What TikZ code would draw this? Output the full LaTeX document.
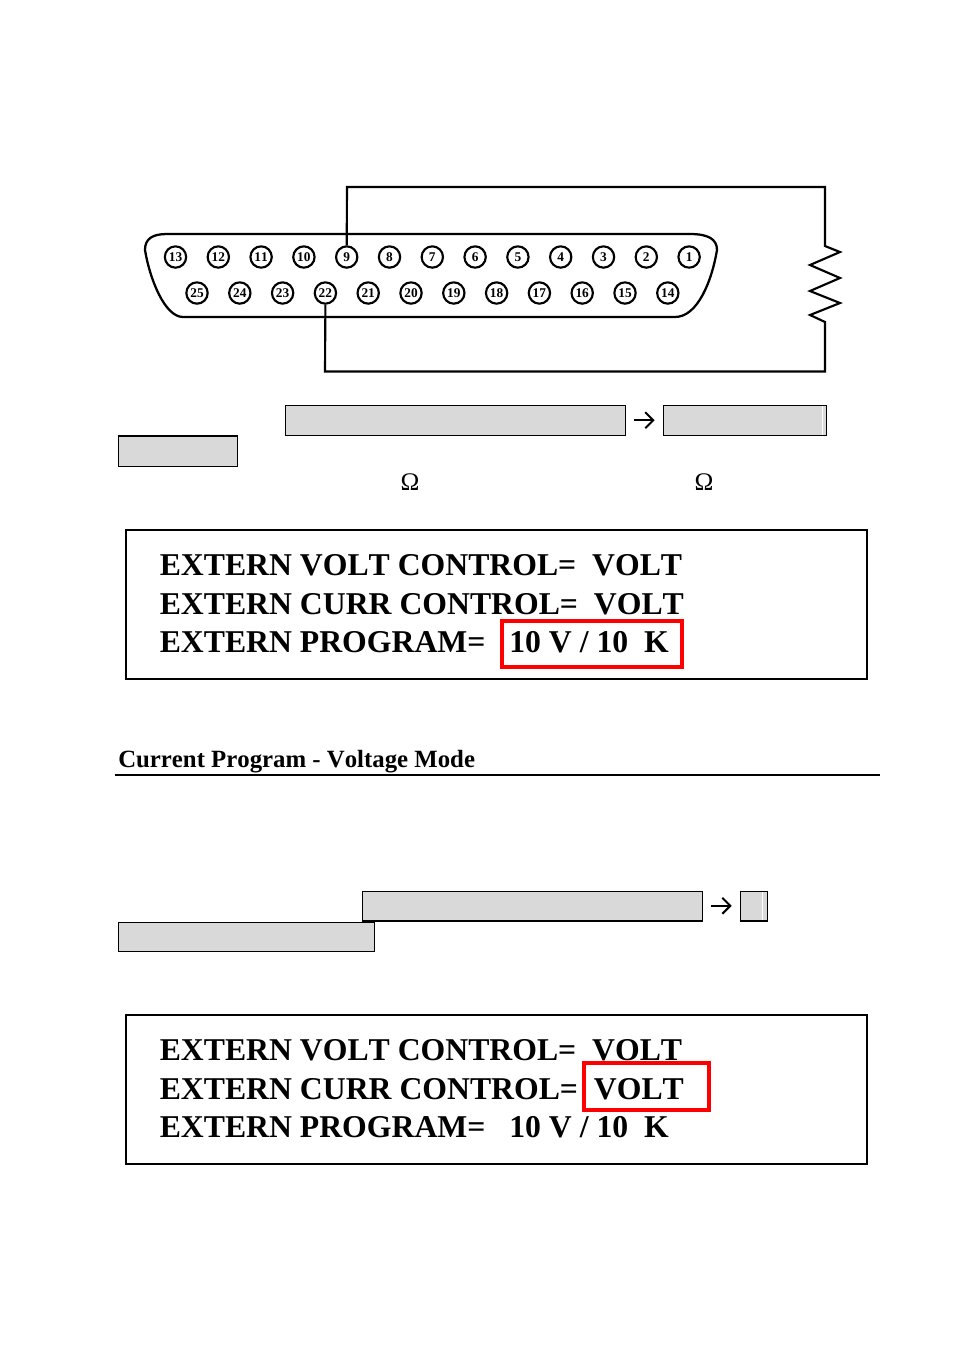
\documentclass[tikz,border=0pt]{standalone}
\usepackage{fontspec}
\setmainfont{Liberation Serif}[Kerning=Off]
\usetikzlibrary{arrows.meta}
\tikzset{
  pin/.style={circle,draw=black,line width=1.6pt,fill=white,minimum size=16pt,inner sep=0pt,font=\bfseries\fontsize{10}{11}\selectfont},
  wire/.style={draw=black,line width=1.6pt,line join=miter},
  shell/.style={draw=black,line width=1.7pt},
  graybox/.style={draw=black,fill=boxgray,line width=0.6pt,inner sep=0pt,minimum height=22.75pt},
  flow/.style={draw=black,line width=1.5pt,-{Straight Barb[length=6pt,width=12pt,line width=1.5pt]}},
  panel/.style={draw=black,line width=1.6pt},
  redbox/.style={draw=red,line width=3pt},
  paneltext/.style={anchor=base west,inner sep=0pt,font=\bfseries\fontsize{23.8}{28}\selectfont},
  omega/.style={anchor=base,inner sep=0pt,font=\fontsize{19}{20}\selectfont},
  heading/.style={anchor=base west,inner sep=0pt,font=\bfseries\fontsize{18.6}{22}\selectfont}
}
\definecolor{boxgray}{HTML}{D9D9D9}
\begin{document}
\begin{tikzpicture}[x=0.75pt,y=-0.75pt]
\useasboundingbox (0,0) rectangle (954,1354);
% connector shell
\draw[shell] (167,234) -- (690,234) .. controls (708,234) and (717,239) .. (717,250)
  .. controls (712,280) and (698,317) .. (675,317) -- (183,317)
  .. controls (165,317) and (150,280) .. (145,250) .. controls (145,239) and (152,234) .. (167,234) -- cycle;
% pins
\foreach \n [count=\i from 0] in {13,12,...,1} {
  \node[pin] (p\n) at ({175.5+42.8*\i},257) {\n};
}
\foreach \n [count=\i from 0] in {25,24,...,14} {
  \node[pin] (p\n) at ({197+42.8*\i},293) {\n};
}
% resistor and wiring
\coordinate (rtop) at (825,246);
\coordinate (rbot) at (825,322);
\draw[wire] (p9.north) -- (347,187) -- (825,187) -- (rtop)
  -- (840,252) -- (810,265) -- (840,278) -- (810,291) -- (840,303) -- (810,315) -- (rbot)
  -- (825,371.5) -- (325,371.5) -- (p22.south);
% first grey row
\node[graybox,minimum width=255.25pt] (b1) at (455.2,420.2) {};
\node[graybox,minimum width=122.5pt] (b2) at (744.7,420.2) {};
\node[graybox,minimum width=89.5pt] (b3) at (177.7,451.2) {};
\draw[black,line width=1.3pt] (b3.north west) -- (b3.north east);
\draw[white,line width=0.7pt] (822,406) -- (822,435);
\draw[flow,shorten <=6pt,shorten >=6pt] (b1.east) -- (b2.west);
\node[omega] (om1) at (410,490) {Ω};
\node[omega] (om2) at (704,490) {Ω};
% first panel
\draw[panel] (126,530) rectangle (867,679);
\draw[black,line width=2.2pt] (126,530) -- (867,530);
\node[paneltext] (t1) at (159.5,575) {EXTERN VOLT CONTROL=\ \ VOLT};
\node[paneltext] (t2) at (159.5,614) {EXTERN CURR CONTROL=\ \ VOLT};
\node[paneltext] (t3) at (159.5,652) {EXTERN PROGRAM=\ \ \ 10 V / 10\ \ K};
\draw[redbox] (501.5,620.5) rectangle (681.5,666.5);
% heading
\node[heading] (h) at (118,767) {Current Program - Voltage Mode};
\draw[black,line width=1.5pt] (115,775) -- (880,775);
% second grey row
\node[graybox,minimum width=255.25pt,minimum height=22.25pt] (b4) at (532.2,905.8) {};
\node[graybox,minimum width=20.5pt,minimum height=22.25pt] (b5) at (753.8,905.8) {};
\draw[black,line width=1.3pt] (b4.south west) -- (b4.south east);
\draw[black,line width=1.3pt] (b5.south west) -- (b5.south east);
\draw[white,line width=0.7pt] (762,892) -- (762,920);
\draw[flow,shorten <=6pt,shorten >=6pt] (b4.east) -- (b5.west);
\node[graybox,minimum width=192.25pt,minimum height=22.25pt] (b6) at (246.2,936.8) {};
% second panel
\draw[panel] (126,1015) rectangle (867,1164);
\draw[black,line width=2.2pt] (126,1015) -- (867,1015);
\node[paneltext] (t4) at (159.5,1060) {EXTERN VOLT CONTROL=\ \ VOLT};
\node[paneltext] (t5) at (159.5,1099) {EXTERN CURR CONTROL=\ \ VOLT};
\node[paneltext] (t6) at (159.5,1137) {EXTERN PROGRAM=\ \ \ 10 V / 10\ \ K};
\draw[redbox] (583.5,1063) rectangle (708.5,1110);
\end{tikzpicture}
\end{document}
